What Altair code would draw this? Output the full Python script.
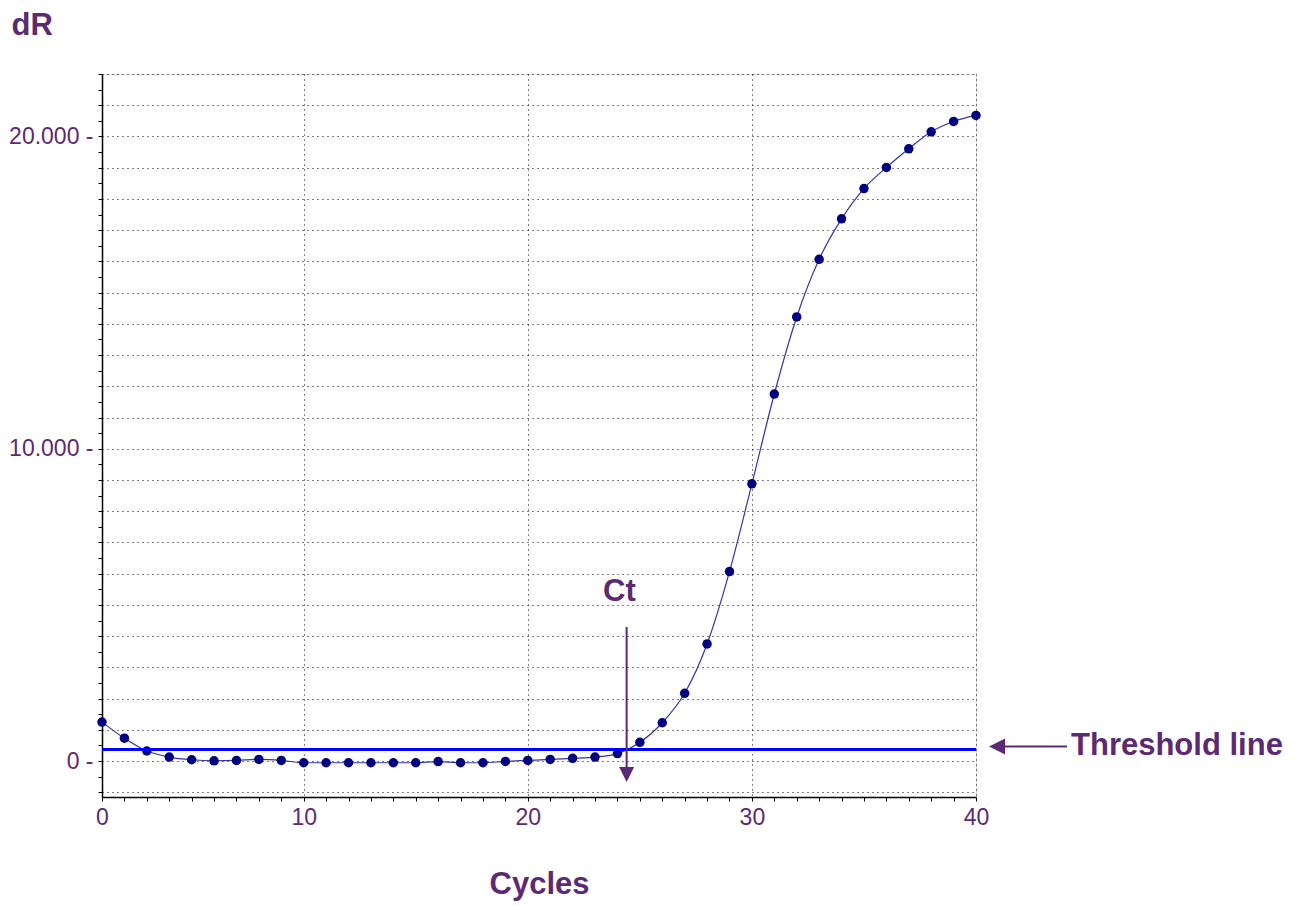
import altair as alt
import pandas as pd

# ---- data ----
cycles = list(range(1, 41))
dR = [1248, 732, 323, 129, 43, 10, 22, 54, 22, -54,
      -54, -54, -54, -54, -54, -15, -54, -54, -10, 22,
      54, 87, 129, 240, 600, 1228, 2170, 3750, 6067, 8878,
      11753, 14221, 16067, 17362, 18333, 19006, 19605, 20150, 20481, 20673]

threshold = 370
ct_cycle = 24.41

x_tick_values = list(range(1, 41))
x_tick_labels = {1: "0", 10: "10", 20: "20", 30: "30", 40: "40"}
y_tick_values = list(range(-1000, 22001, 500))
y_tick_labels = {0: "0 -", 10000: "10.000 -", 20000: "20.000 -"}

PURPLE = "#5c2a73"
FONT = "Liberation Sans"

def label_expr(mapping):
    expr = "''"
    for k, v in reversed(list(mapping.items())):
        expr = f"datum.value == {k} ? '{v}' : ({expr})"
    return expr

df = pd.DataFrame({"cycle": cycles, "dR": dR})

xscale = alt.Scale(domain=[1, 40], nice=False, zero=False)
yscale = alt.Scale(domain=[-1150, 22000], nice=False, zero=False)

xaxis = alt.Axis(
    values=x_tick_values, labelExpr=label_expr(x_tick_labels), labelOverlap=False, labelFlush=False,
    labelFont=FONT, labelFontSize=23, labelColor=PURPLE, labelPadding=5,
    tickSize=4, tickColor="black", domainColor="black", domainWidth=1.5,
    grid=True, gridColor="#000000", gridDash=[1, 4], gridWidth=1,
    gridOpacity={"condition": {"test": "datum.value % 10 === 0", "value": 1}, "value": 0},
    title="Cycles", titleFont=FONT, titleFontSize=31, titleFontWeight="bold",
    titleColor=PURPLE, titleBaseline="alphabetic", titleY=96,
)
yaxis = alt.Axis(
    values=y_tick_values, labelExpr=label_expr(y_tick_labels), labelOverlap=False, labelFlush=False,
    labelFont=FONT, labelFontSize=23, labelColor=PURPLE, labelPadding=5,
    tickSize=4, tickColor="black", domainColor="black", domainWidth=1.5,
    grid=True, gridColor="#000000", gridDash=[1, 4], gridWidth=1,
    gridOpacity={"condition": {"test": "datum.value % 1000 === 0", "value": 1}, "value": 0},
    title="dR", titleFont=FONT, titleFontSize=31, titleFontWeight="bold",
    titleColor=PURPLE, titleAngle=0, titleAlign="left", titleBaseline="alphabetic",
    titleX=-91, titleY=-40,
)

X = alt.X("cycle:Q", scale=xscale, axis=xaxis)
Y = alt.Y("dR:Q", scale=yscale, axis=yaxis)

line = alt.Chart(df).mark_line(color="#3434a8", strokeWidth=1.2, interpolate="monotone").encode(x=X, y=Y)
points = alt.Chart(df).mark_point(filled=True, shape="circle", size=90, color="#000080", opacity=1).encode(x=X, y=Y)

thr = alt.Chart(pd.DataFrame({"dR": [threshold]})).mark_rule(color="#0000ff", strokeWidth=3).encode(y=Y)

# Ct arrow
ct_shaft = alt.Chart(pd.DataFrame({"cycle": [ct_cycle], "dR": [4293], "dR2": [-190]})).mark_rule(
    color=PURPLE, strokeWidth=2, clip=False).encode(x=X, y=Y, y2="dR2:Q")
ct_head = alt.Chart(pd.DataFrame({"cycle": [ct_cycle], "dR": [-430]})).mark_point(
    shape="M-1,-1L1,-1L0,1Z", filled=True, size=225, color=PURPLE, opacity=1, clip=False).encode(x=X, y=Y)
ct_text = alt.Chart(pd.DataFrame({"cycle": [24.09], "dR": [5125], "t": ["Ct"]})).mark_text(
    font=FONT, fontSize=31, fontWeight="bold", color=PURPLE, align="center", baseline="alphabetic",
    clip=False).encode(x=X, y=Y, text="t:N")

# Threshold arrow + label
th_shaft = alt.Chart(pd.DataFrame({"cycle": [41.1], "cycle2": [44.06], "dR": [466]})).mark_rule(
    color=PURPLE, strokeWidth=2, clip=False).encode(x=X, x2="cycle2:Q", y=Y)
th_head = alt.Chart(pd.DataFrame({"cycle": [40.94], "dR": [466]})).mark_point(
    shape="M1,-1L1,1L-1,0Z", filled=True, size=256, color=PURPLE, opacity=1, clip=False).encode(x=X, y=Y)
th_text = alt.Chart(pd.DataFrame({"cycle": [44.24], "dR": [194], "t": ["Threshold line"]})).mark_text(
    font=FONT, fontSize=31, fontWeight="bold", color=PURPLE, align="left", baseline="alphabetic",
    clip=False).encode(x=X, y=Y, text="t:N")

chart = alt.layer(line, points, thr, ct_shaft, ct_head, ct_text, th_shaft, th_head, th_text).properties(
    width=874, height=723,
    padding={"left": 94, "top": 66, "right": 320, "bottom": 108},
    autosize=alt.AutoSizeParams(type="none"),
).configure_view(strokeWidth=0).configure(background="white")

chart.save("out.html", embed_options={"renderer": "svg", "actions": False})
